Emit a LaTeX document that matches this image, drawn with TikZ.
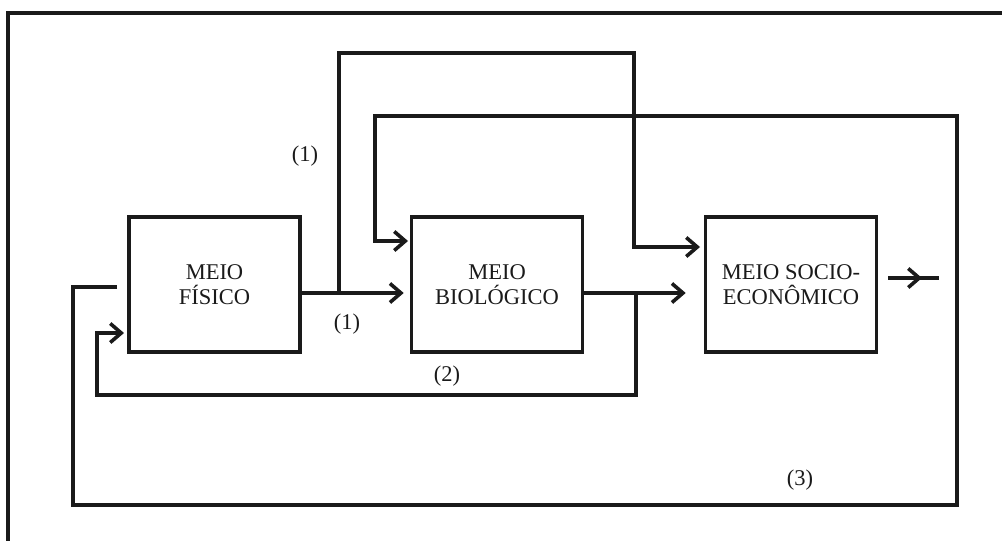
\documentclass[tikz,border=0pt]{standalone}
\usepackage{fontspec}
\setmainfont{Liberation Serif}
\usetikzlibrary{arrows.meta}
\definecolor{ink}{HTML}{1A1A1A}
\tikzset{
  line/.style={draw=ink, line width=3.6pt, line join=miter},
  arr/.style={line, -{Straight Barb[length=11pt,width=19pt]}},
  box/.style={line, rectangle, minimum width=171pt, minimum height=135pt,
              align=center, font=\fontsize{22.5}{25}\selectfont, text=ink},
  lbl/.style={font=\fontsize{22.5}{25}\selectfont, text=ink, inner sep=0pt}
}
\begin{document}
\begin{tikzpicture}[x=1pt,y=-1pt]
  \useasboundingbox (0,0) rectangle (1002,541);
  % frame (top and left edges)
  \draw[line, line width=4pt] (8,541) -- (8,13) -- (1002,13);

  % the three environments
  \node[box] (fis) at (214.5,284.5) {MEIO\\FÍSICO};
  \node[box] (bio) at (497,284.5) {MEIO\\BIOLÓGICO};
  \node[box] (soc) at (791,284.5) {MEIO SOCIO-\\ECONÔMICO};

  % junctions and bends
  \coordinate (j1) at (339,293);
  \coordinate (t1) at (634,53);
  \coordinate (in3a) at (706,247);
  \coordinate (j2) at (636,293);
  \coordinate (b2) at (97,395);
  \coordinate (in1) at (129,333);
  \coordinate (s3) at (117,287);
  \coordinate (c3a) at (73,505);
  \coordinate (c3b) at (957,116);
  \coordinate (c3c) at (375,241);
  \coordinate (in2b) at (412,241);
  \coordinate (o1) at (939,278);

  % (1) physical -> biological, with branch to socio-economic
  \draw[arr, shorten >=6pt] (fis.east |- j1) -- (bio.west |- j1);
  \draw[arr, shorten >=6pt] (j1) |- (t1) |- (in3a);

  % biological -> socio-economic, and feedback (2) to physical
  \draw[arr, shorten >=18pt] (bio.east |- j2) -- (soc.west |- j2);
  \draw[arr, shorten >=5pt] (j2) |- (b2) |- (in1);

  % feedback (3) around the whole system into biological
  \draw[arr, shorten >=4pt] (s3) -| (c3a) -| (c3b) -| (c3c) -- (in2b);

  % output of socio-economic
  \draw[line, shorten <=10pt] (soc.east |- o1) -- (o1);
  \draw[arr, shorten <=10pt, shorten >=17pt] (soc.east |- o1) -- (o1);

  % labels
  \node[lbl] (l1a) at (305,156) {(1)};
  \node[lbl] (l1b) at (347,324) {(1)};
  \node[lbl] (l2) at (447,376) {(2)};
  \node[lbl] (l3) at (800,480) {(3)};
\end{tikzpicture}
\end{document}
